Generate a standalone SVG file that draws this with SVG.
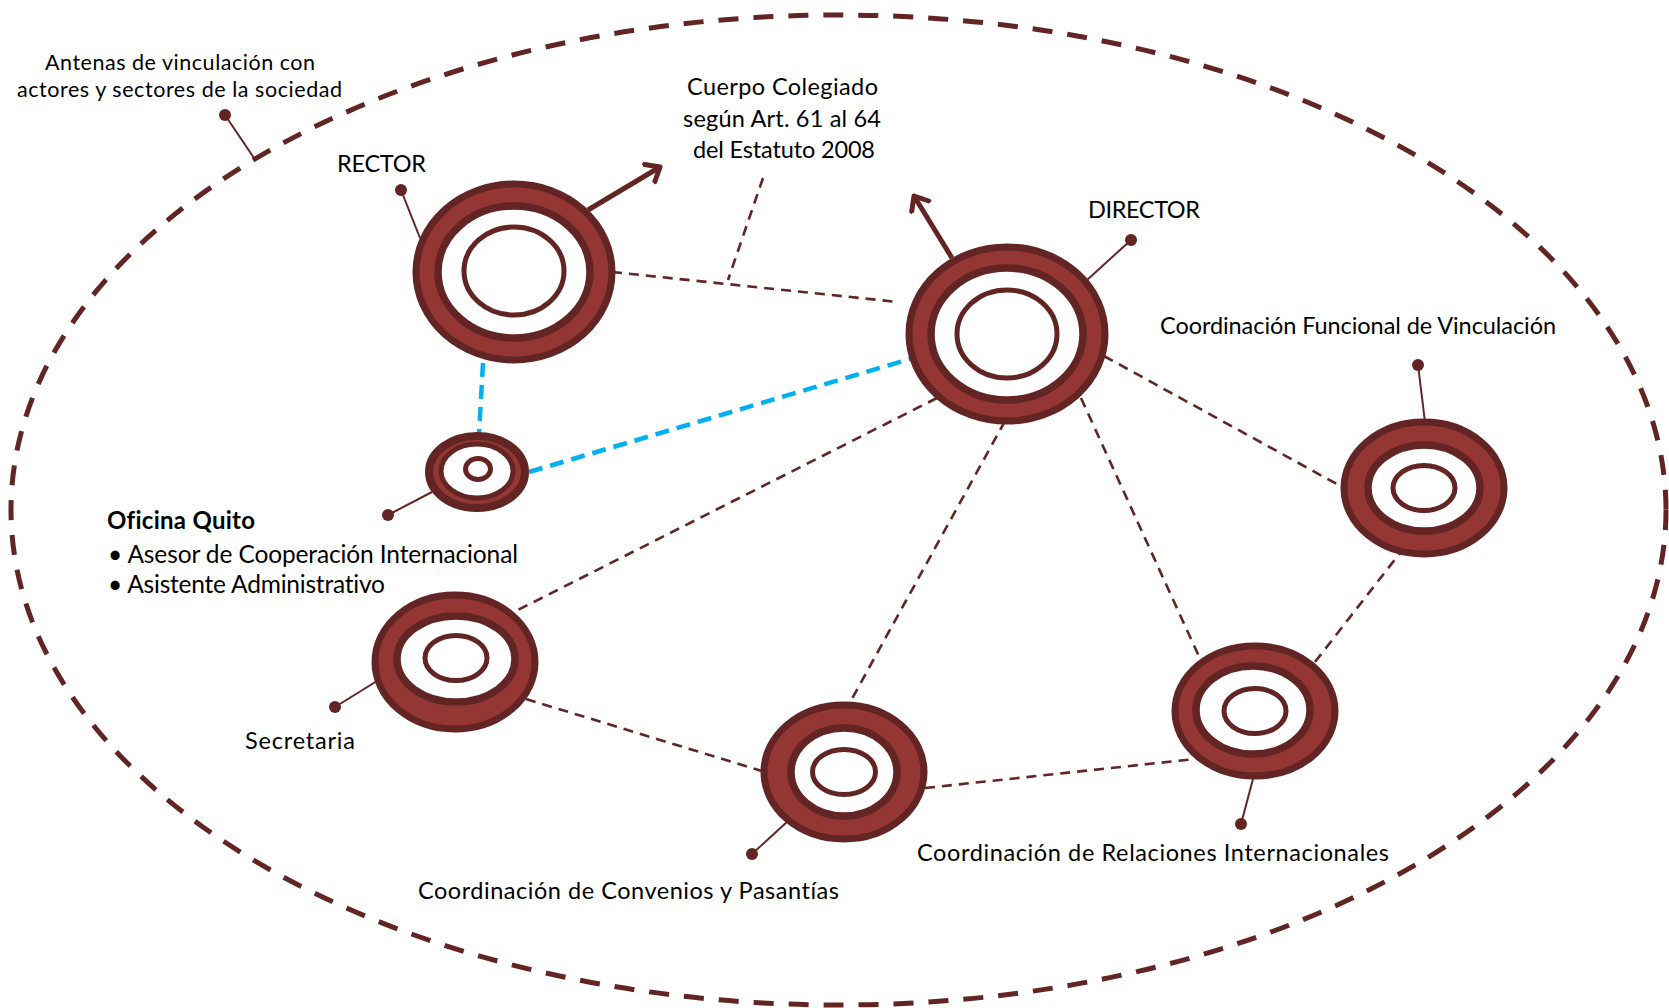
<svg xmlns="http://www.w3.org/2000/svg" width="1669" height="1008" viewBox="0 0 1669 1008">
<defs>
<style>
.t{font-family:Lato,"Open Sans","Liberation Sans",sans-serif;font-size:23.5px;fill:#000;font-variant-ligatures:none}
.outer{fill:#943634;stroke:#632523;stroke-width:7}
.mid{fill:#fff;stroke:#632523;stroke-width:7.5}
.inner{fill:#fff;stroke:#632523;stroke-width:5}
.dash{fill:none;stroke:#632523;stroke-width:2.6;stroke-dasharray:10 7}
.blue{fill:none;stroke:#00b0f0;stroke-width:4.5;stroke-dasharray:14 8}
.lead{stroke:#632523;stroke-width:2}
.dot{fill:#632523}
.arr{stroke:#632523;stroke-width:5;fill:none}
</style>
<marker id="ah" markerUnits="userSpaceOnUse" markerWidth="30" markerHeight="30" refX="14" refY="12" orient="auto" viewBox="0 0 30 24">
<path d="M2,2 L14,12 L2,22" fill="none" stroke="#632523" stroke-width="5" stroke-linecap="round" stroke-linejoin="round"/>
</marker>
</defs>
<rect width="1669" height="1008" fill="#fff"/>
<ellipse id="boundary" cx="838.5" cy="510" rx="827.5" ry="495" fill="none" stroke="#632523" stroke-width="5" stroke-dasharray="20 15"/>
<g id="connectors">
<line class="dash" x1="612" y1="272" x2="898" y2="302"/>
<line class="dash" x1="763" y1="178" x2="728" y2="280"/>
<line class="dash" x1="1104" y1="356" x2="1344" y2="488"/>
<line class="dash" x1="937" y1="398" x2="512" y2="613"/>
<line class="dash" x1="1005" y1="421" x2="848" y2="706"/>
<line class="dash" x1="1081" y1="398" x2="1202" y2="663"/>
<line class="dash" x1="526" y1="699" x2="765" y2="772"/>
<line class="dash" x1="925" y1="788" x2="1195" y2="759"/>
<line class="dash" x1="1315" y1="662" x2="1400" y2="553"/>
<line class="blue" x1="483" y1="363" x2="479" y2="434"/>
<line class="blue" x1="529" y1="472" x2="910" y2="359"/>
<line class="arr" x1="588" y1="210" x2="660" y2="167" marker-end="url(#ah)"/>
<line class="arr" x1="952" y1="258" x2="914" y2="196" marker-end="url(#ah)"/>
<line class="lead" x1="254" y1="158" x2="225" y2="115"/><circle class="dot" cx="225" cy="115" r="6"/>
<line class="lead" x1="420" y1="238" x2="401" y2="190"/><circle class="dot" cx="401" cy="190" r="6"/>
<line class="lead" x1="1087" y1="280" x2="1131" y2="240"/><circle class="dot" cx="1131" cy="240" r="6"/>
<line class="lead" x1="1425" y1="422" x2="1418" y2="365"/><circle class="dot" cx="1418" cy="365" r="6"/>
<line class="lead" x1="432" y1="492" x2="388" y2="515"/><circle class="dot" cx="388" cy="515" r="6"/>
<line class="lead" x1="377" y1="681" x2="335" y2="707"/><circle class="dot" cx="335" cy="707" r="6"/>
<line class="lead" x1="788" y1="821" x2="752" y2="854"/><circle class="dot" cx="752" cy="854" r="6"/>
<line class="lead" x1="1253" y1="779" x2="1241" y2="824"/><circle class="dot" cx="1241" cy="824" r="6"/>
</g>
<g id="rector">
<ellipse class="outer" cx="514" cy="272" rx="98" ry="88"/>
<ellipse class="mid" cx="514" cy="272" rx="76" ry="66"/>
<ellipse class="inner" cx="514" cy="271" rx="50" ry="44"/>
<text class="t" x="337" y="172" textLength="89">RECTOR</text>
</g>
<g id="director">
<ellipse class="outer" cx="1007" cy="334" rx="98" ry="87"/>
<ellipse class="mid" cx="1007" cy="334" rx="76" ry="66"/>
<ellipse class="inner" cx="1007" cy="334" rx="50" ry="44"/>
<text class="t" x="1088" y="218" textLength="112">DIRECTOR</text>
</g>
<g id="oficina">
<ellipse cx="477" cy="472" rx="48" ry="36" fill="#943634" stroke="#632523" stroke-width="8"/>
<ellipse cx="477" cy="471" rx="36" ry="27" fill="#fff" stroke="#632523" stroke-width="5"/>
<ellipse cx="478" cy="469" rx="12.5" ry="10.5" fill="#fff" stroke="#632523" stroke-width="5"/>
<text class="t" x="107" y="529" textLength="148" font-weight="bold" style="font-size:24px">Oficina Quito</text>
<text class="t" x="108" y="563" textLength="410" style="font-size:24.5px">• Asesor de Cooperación Internacional</text>
<text class="t" x="108" y="593" textLength="277" style="font-size:24.5px">• Asistente Administrativo</text>
</g>
<g id="funcional">
<ellipse class="outer" cx="1424" cy="488" rx="80" ry="66"/>
<ellipse class="mid" cx="1424" cy="488" rx="56" ry="43"/>
<ellipse class="inner" cx="1424" cy="488" rx="31" ry="22.5"/>
<text class="t" x="1160" y="334" textLength="396">Coordinación Funcional de Vinculación</text>
</g>
<g id="secretaria">
<ellipse class="outer" cx="455" cy="662" rx="80" ry="67"/>
<ellipse class="mid" cx="456" cy="659" rx="59" ry="43"/>
<ellipse class="inner" cx="456" cy="658" rx="31" ry="22.5"/>
<text class="t" x="245" y="749" textLength="110">Secretaria</text>
</g>
<g id="convenios">
<ellipse class="outer" cx="844" cy="772" rx="80" ry="67"/>
<ellipse class="mid" cx="844" cy="772" rx="53" ry="44"/>
<ellipse class="inner" cx="844" cy="772" rx="31.5" ry="22.5"/>
<text class="t" x="418" y="899" textLength="421">Coordinación de Convenios y Pasantías</text>
</g>
<g id="relaciones">
<ellipse class="outer" cx="1255" cy="711" rx="80" ry="65"/>
<ellipse class="mid" cx="1253" cy="710" rx="57" ry="44"/>
<ellipse class="inner" cx="1255" cy="711" rx="31" ry="22.5"/>
<text class="t" x="917" y="861" textLength="472">Coordinación de Relaciones Internacionales</text>
</g>
<g id="cuerpo">
<text class="t" x="687" y="95" textLength="191">Cuerpo Colegiado</text>
<text class="t" x="683" y="127" textLength="198">según Art. 61 al 64</text>
<text class="t" x="693" y="158" textLength="182">del Estatuto 2008</text>
</g>
<g id="antenas">
<text class="t" x="45" y="70" textLength="270" style="font-size:21.5px">Antenas de vinculación con</text>
<text class="t" x="17" y="97" textLength="325" style="font-size:21.5px">actores y sectores de la sociedad</text>
</g>
</svg>
